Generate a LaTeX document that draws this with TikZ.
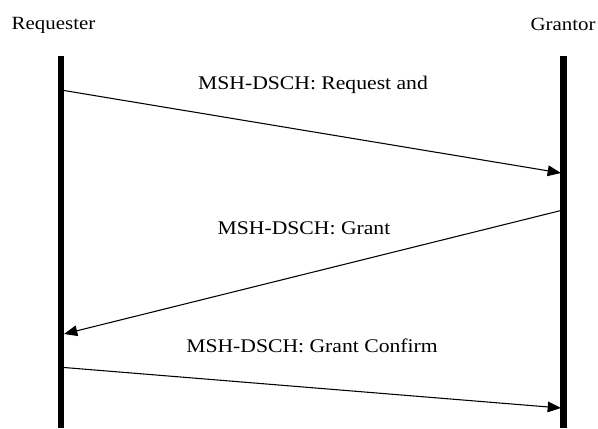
\documentclass[tikz,border=0pt]{standalone}
\usepackage{fontspec}
\setmainfont{Liberation Serif}
\newfontfamily\msgfont[FakeStretch=1.12]{Liberation Serif}
\usetikzlibrary{arrows.meta}
\begin{document}
\begin{tikzpicture}[x=0.75pt,y=-0.75pt,
  lifeline/.style={line width=5pt,line cap=butt},
  msg/.style={line width=0.8pt,-{Triangle[length=10pt,width=8pt]}},
  actor/.style={font=\msgfont\fontsize{14}{16}\selectfont,inner sep=0pt},
  msglabel/.style={font=\msgfont\fontsize{14.5}{17}\selectfont,inner sep=0pt}]
  \useasboundingbox (0,0) rectangle (598,428);

  % participants
  \node[actor] (req) at (53.5,25) {Requester};
  \node[actor] (gra) at (563,24) {Grantor};

  % lifelines
  \coordinate (reqTop) at (61,56);
  \coordinate (reqBot) at (61,428);
  \coordinate (graTop) at (563.5,56);
  \coordinate (graBot) at (563.5,428);
  \draw[lifeline] (reqTop) -- (reqBot);
  \draw[lifeline] (graTop) -- (graBot);

  % message end points on the lifelines
  \coordinate (m1s) at (64,90.5);
  \coordinate (m1e) at (561,173);
  \coordinate (m2s) at (561,210.5);
  \coordinate (m2e) at (64,334);
  \coordinate (m3s) at (64,367.5);
  \coordinate (m3e) at (561,408);

  % messages
  \draw[msg] (m1s) -- (m1e);
  \draw[msg] (m2s) -- (m2e);
  \draw[msg] (m3s) -- (m3e);

  \node[msglabel] (l1) at (313,85) {MSH-DSCH: Request and};
  \node[msglabel] (l2) at (304,228) {MSH-DSCH: Grant};
  \node[msglabel] (l3) at (312,346) {MSH-DSCH: Grant Confirm};
\end{tikzpicture}
\end{document}
